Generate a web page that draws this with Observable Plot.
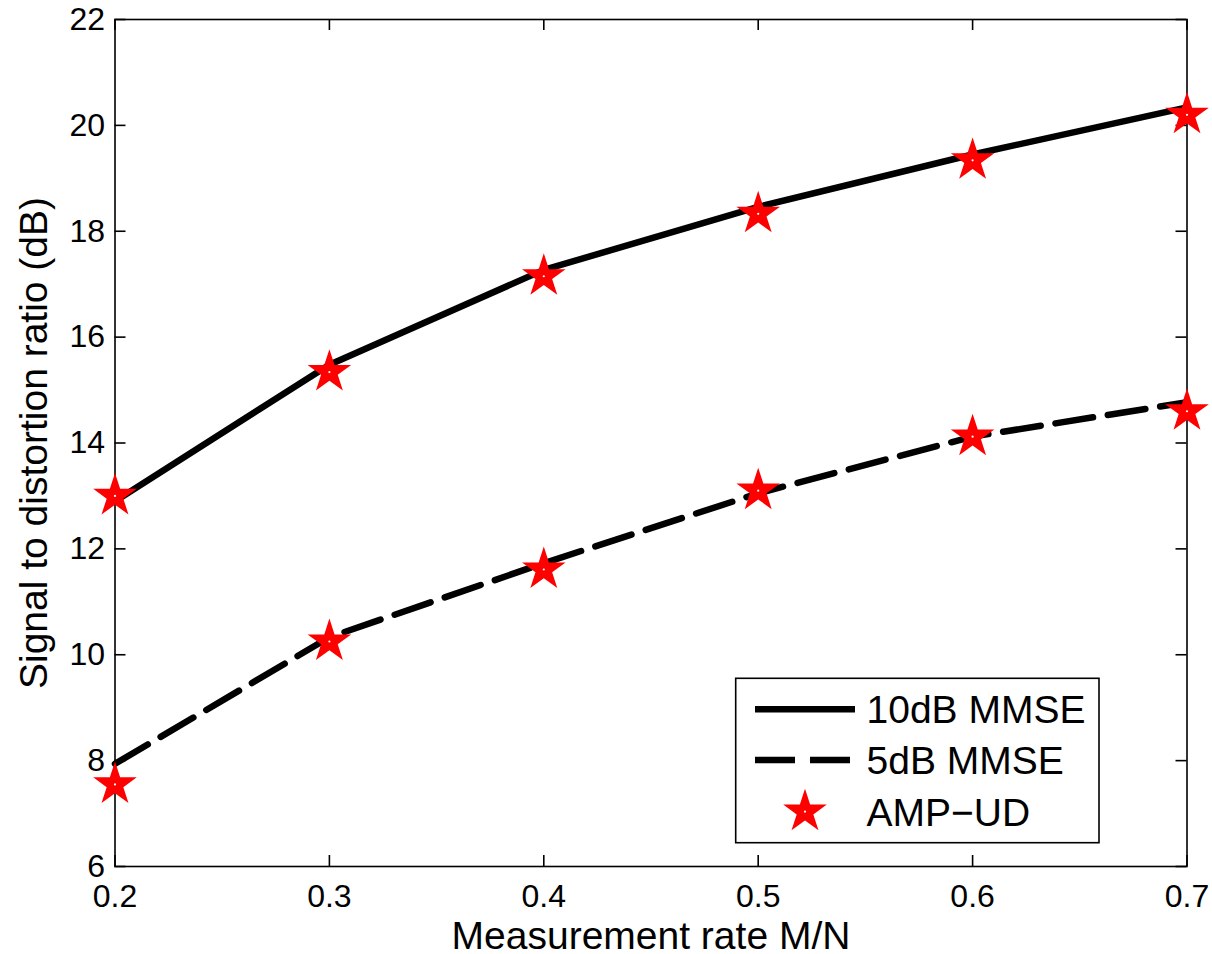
<!DOCTYPE html>
<html><head><meta charset="utf-8">
<script src="https://cdn.jsdelivr.net/npm/d3@7"></script>
<script src="https://cdn.jsdelivr.net/npm/@observablehq/plot@0.6"></script>
<style>body{margin:0;background:#fff}#wrap{width:1212px;height:954px}</style>
</head><body><div id="wrap"></div>
<script>
// Data
const rates = [0.2, 0.3, 0.4, 0.5, 0.6, 0.7];
const mmse10 = [12.9, 15.48, 17.27, 18.46, 19.45, 20.34];
const mmse5 = [7.94, 10.33, 11.73, 13.05, 14.12, 14.77];
const ampud10 = [13.0, 15.34, 17.15, 18.33, 19.34, 20.2];
const ampud5 = [7.55, 10.25, 11.61, 13.1, 14.12, 14.6];
const xTicks = [0.2, 0.3, 0.4, 0.5, 0.6, 0.7];
const yTicks = [6, 8, 10, 12, 14, 16, 18, 20, 22];
const seriesNames = ["10dB MMSE", "5dB MMSE", "AMP\u2212UD"];
const xLabel = "Measurement rate M/N";
const yLabel = "Signal to distortion ratio (dB)";

const W = 1212, H = 954;
const mL = 114.5, mR = 25.5, mT = 19, mB = 88;
const pw = W - mL - mR, ph = H - mT - mB;
const tick = 11;
const font = "'Liberation Sans', Arial, Helvetica, sans-serif";

const pts10 = rates.map((x, i) => ({x, y: mmse10[i]}));
const pts5 = rates.map((x, i) => ({x, y: mmse5[i]}));
const stars = rates.map((x, i) => ({x, y: ampud10[i]})).concat(rates.map((x, i) => ({x, y: ampud5[i]})));

const starR = 13.7;
const lw = 6.5;
const dash = "38,15";

const plot = Plot.plot({
  width: W, height: H,
  marginLeft: mL, marginRight: mR, marginTop: mT, marginBottom: mB,
  style: {fontFamily: font, fontSize: "32px", color: "#000", background: "#fff", overflow: "visible"},
  x: {domain: [0.2, 0.7], label: null},
  y: {domain: [6, 22], label: null},
  marks: [
    Plot.frame({stroke: "#000", strokeWidth: 1.6}),
    Plot.tickX(xTicks, {x: d => d, insetTop: ph - tick, stroke: "#000", strokeWidth: 1.6}),
    Plot.tickX(xTicks, {x: d => d, insetBottom: ph - tick, stroke: "#000", strokeWidth: 1.6}),
    Plot.tickY(yTicks, {y: d => d, insetRight: pw - tick, stroke: "#000", strokeWidth: 1.6}),
    Plot.tickY(yTicks, {y: d => d, insetLeft: pw - tick, stroke: "#000", strokeWidth: 1.6}),
    Plot.axisX(xTicks, {tickSize: 0, tickPadding: 18, fontSize: 32, tickFormat: d3.format(".1f"), label: null}),
    Plot.axisY(yTicks, {tickSize: 0, tickPadding: 10, fontSize: 32, tickFormat: d => String(d), label: null}),
    Plot.line(pts10, {x: "x", y: "y", stroke: "#000", strokeWidth: lw, strokeLinejoin: "round"}),
    Plot.line(pts5, {x: "x", y: "y", stroke: "#000", strokeWidth: lw, strokeDasharray: dash}),
    Plot.dot(stars, {x: "x", y: "y", symbol: "star", r: starR, fill: "#ff0000", stroke: "none"}),
    Plot.dot(stars, {x: "x", y: "y", r: 1.1, fill: "#fff", stroke: "none"}),
    Plot.text([xLabel], {frameAnchor: "bottom", dy: 70, fontSize: 39, text: d => d, textAnchor: "middle", lineAnchor: "middle", fill: "#000"}),
    Plot.text([yLabel], {frameAnchor: "left", dx: -80, rotate: -90, fontSize: 39, text: d => d, textAnchor: "middle", lineAnchor: "middle", fill: "#000"})
  ]
});
document.getElementById("wrap").appendChild(plot);

// Legend inside the plot (bottom right)
const svg = d3.select(plot);
const lg = svg.append("g").attr("font-family", font).attr("font-size", 39).attr("text-anchor", "start");
const box = {x: 735.7, y: 678.3, w: 363.3, h: 164.4};
lg.append("rect").attr("x", box.x).attr("y", box.y).attr("width", box.w).attr("height", box.h)
  .attr("fill", "#fff").attr("stroke", "#000").attr("stroke-width", 1.6);
const rowY = [709.3, 760, 811.7];
const sx0 = 755, sx1 = 855, tx = 866.5;
lg.append("line").attr("x1", sx0).attr("x2", sx1).attr("y1", rowY[0]).attr("y2", rowY[0])
  .attr("stroke", "#000").attr("stroke-width", lw);
lg.append("line").attr("x1", sx0).attr("x2", sx1).attr("y1", rowY[1]).attr("y2", rowY[1])
  .attr("stroke", "#000").attr("stroke-width", lw).attr("stroke-dasharray", "40,15");
lg.append("path").attr("d", d3.symbol(d3.symbolStar, starR * starR * Math.PI)())
  .attr("transform", `translate(${(sx0 + sx1) / 2},${rowY[2]})`).attr("fill", "#ff0000");
lg.append("circle").attr("cx", (sx0 + sx1) / 2).attr("cy", rowY[2]).attr("r", 1.1).attr("fill", "#fff");
seriesNames.forEach((s, i) => {
  lg.append("text").attr("x", tx).attr("y", rowY[i]).attr("dy", "0.36em").attr("text-anchor", "start").attr("fill", "#000").text(s);
});
</script>
</body></html>
